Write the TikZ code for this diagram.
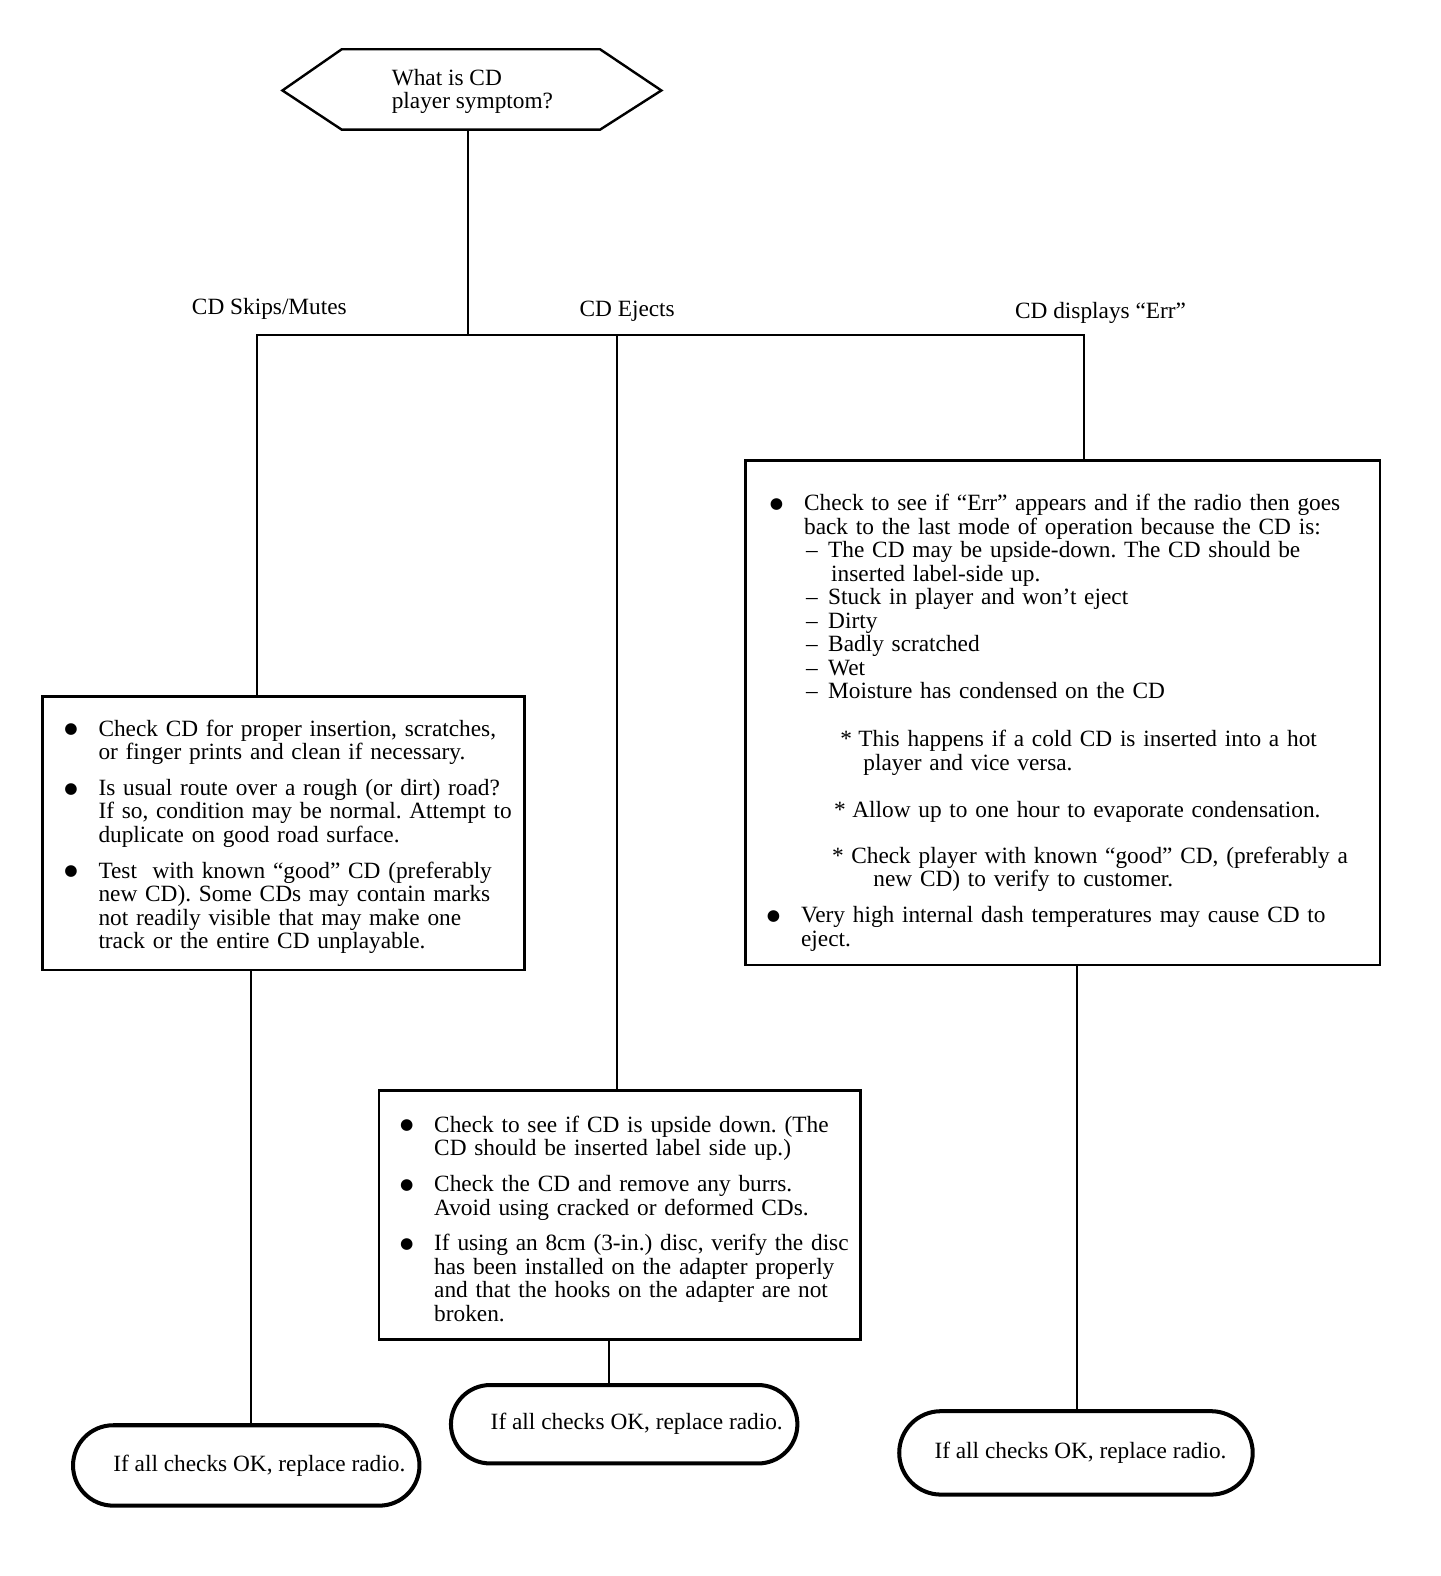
\documentclass[tikz,border=0pt]{standalone}
\usepackage{fontspec}
\setmainfont{Liberation Serif}
\newfontfamily\symfont{DejaVu Sans}
\usetikzlibrary{shapes.misc}
\newcommand\flowfont{\fontsize{11.6}{11.7}\selectfont\frenchspacing}
\newcommand\bigdot{\raisebox{1.2pt}{\symfont\fontsize{7.6}{7.6}\selectfont ●}}
% symbol, symbol offset, text offset, hanging indent, text
\newcommand\listline[5]{\par\rightskip=-20pt plus 1fil\hangindent=#4\hangafter=1\noindent\hspace*{#2}\makebox[\dimexpr#3-#2\relax][l]{#1}#5\par}
\newcommand\bul[1]{\listline{\bigdot}{0pt}{17pt}{17pt}{#1}}

\begin{document}
\begin{tikzpicture}[x=0.5pt,y=-0.5pt,
  link/.style={line width=1pt},
  checkbox/.style={draw,line width=1.4pt,align=left,inner ysep=0pt,font=\flowfont},
  endbox/.style={draw,rounded rectangle,line width=2pt,font=\flowfont},
  branch/.style={font=\flowfont}]
  \useasboundingbox (0,0) rectangle (1433,1568);
  % question
  \draw[line width=1.2pt] (281,90) -- (340,49) -- (597,49) -- (658,90) -- (597,129) -- (340,129) -- cycle;
  \node[branch,align=left] (question) at (470,91) {What is CD\\player symptom?};
  \coordinate (qbot) at (466,129);
  \coordinate (split) at (466,333);
  \coordinate (jl) at (256,333);
  \coordinate (jm) at (614,333);
  \coordinate (jr) at (1078,333);
  \node[branch] (lskip) at (268,307) {CD Skips/Mutes};
  \node[branch] (leject) at (624,310) {CD Ejects};
  \node[branch] (lerr) at (1095,311) {CD displays “Err”};
  % checks
  \node[checkbox,text width=218pt,inner xsep=11pt,minimum height=136pt] (skips) at (282,829) {%
    \bul{Check CD for proper insertion, scratches,\newline or finger prints and clean if necessary.}
    \vspace{6pt}
    \bul{Is usual route over a rough (or dirt) road?\newline If so, condition may be normal. Attempt to\newline duplicate on good road surface.}
    \vspace{6pt}
    \bul{Test\ \ with known “good” CD (preferably\newline new CD). Some CDs may contain marks\newline not readily visible that may make one\newline track or the entire CD unplayable.}
    \vspace*{2.5pt}};
  \node[checkbox,text width=291.5pt,inner xsep=12pt,minimum height=251pt] (errbox) at (1057.5,709) {%
    \vspace*{6.5pt}
    \bul{Check to see if “Err” appears and if the radio then goes\newline back to the last mode of operation because the CD is:}
    \listline{–}{18pt}{29pt}{30.5pt}{The CD may be upside-down. The CD should be\newline inserted label-side up.}
    \listline{–}{18pt}{29pt}{29pt}{Stuck in player and won’t eject}
    \listline{–}{18pt}{29pt}{29pt}{Dirty}
    \listline{–}{18pt}{29pt}{29pt}{Badly scratched}
    \listline{–}{18pt}{29pt}{29pt}{Wet}
    \listline{–}{18pt}{29pt}{29pt}{Moisture has condensed on the CD}
    \vspace{12pt}
    \listline{*}{35pt}{44pt}{46.5pt}{This happens if a cold CD is inserted into a hot\newline player and vice versa.}
    \vspace{12pt}
    \listline{*}{32pt}{41pt}{41pt}{Allow up to one hour to evaporate condensation.}
    \vspace{11pt}
    \listline{*}{31pt}{40.5pt}{51.5pt}{Check player with known “good” CD, (preferably a\newline new CD) to verify to customer.}
    \vspace{6pt}
    \listline{\bigdot}{-1.5pt}{15.5pt}{15.5pt}{Very high internal dash temperatures may cause CD to\newline eject.}};
  \node[checkbox,text width=218.5pt,inner xsep=10.5pt,minimum height=124pt] (ejects) at (616.5,1209) {%
    \bul{Check to see if CD is upside down. (The\newline CD should be inserted label side up.)}
    \vspace{6pt}
    \bul{Check the CD and remove any burrs.\newline Avoid using cracked or deformed CDs.}
    \vspace{6pt}
    \bul{If using an 8cm (3-in.) disc, verify the disc\newline has been installed on the adapter properly\newline and that the hooks on the adapter are not\newline broken.}
    \vspace*{3pt}};
  % results
  \node[endbox,minimum width=179pt,minimum height=40pt] (end1) at (245,1458) {\hspace*{13pt}If all checks OK, replace radio.};
  \node[endbox,minimum width=179pt,minimum height=39pt] (end2) at (621,1417) {\hspace*{12.5pt}If all checks OK, replace radio.};
  \node[endbox,minimum width=182.5pt,minimum height=41.5pt] (end3) at (1070.5,1445.5) {\hspace*{4.5pt}If all checks OK, replace radio.};
  \coordinate (colL) at (250,0);
  \coordinate (colM) at (606,0);
  \coordinate (colR) at (1072,0);
  % connectors
  \draw[link] (qbot) -- (split);
  \draw[link] (jl |- skips.north) -- (jl) -- (jr) -- (jr |- errbox.north);
  \draw[link] (jm) -- (jm |- ejects.north);
  \draw[link] (colL |- skips.south) -- (colL |- end1.north);
  \draw[link] (colM |- ejects.south) -- (colM |- end2.north);
  \draw[link] (colR |- errbox.south) -- (colR |- end3.north);
\end{tikzpicture}
\end{document}
